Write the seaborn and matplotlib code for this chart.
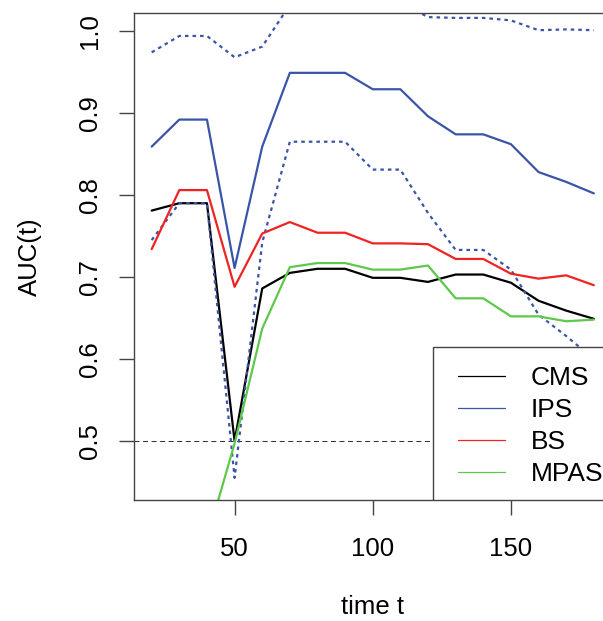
import pandas as pd
import matplotlib
matplotlib.use("Agg")
import matplotlib.pyplot as plt
from matplotlib.patches import Rectangle
import seaborn as sns

# time points and AUC(t) curves
time_t = [20, 30, 40, 50, 60, 70, 80, 90, 100, 110, 120, 130, 140, 150, 160, 170, 180]
auc_cms = [0.781, 0.790, 0.790, 0.500, 0.686, 0.705, 0.710, 0.710, 0.699, 0.699,
           0.694, 0.703, 0.703, 0.693, 0.671, 0.659, 0.649]
auc_ips = [0.859, 0.892, 0.892, 0.711, 0.859, 0.949, 0.949, 0.949, 0.929, 0.929,
           0.896, 0.874, 0.874, 0.862, 0.828, 0.816, 0.802]
auc_ips_lower = [0.745, 0.790, 0.790, 0.455, 0.742, 0.865, 0.865, 0.865, 0.831, 0.831,
                 0.778, 0.733, 0.733, 0.709, 0.654, 0.628, 0.600]
auc_ips_upper = [0.974, 0.994, 0.994, 0.968, 0.981, 1.032, 1.032, 1.032, 1.035, 1.035,
                 1.017, 1.016, 1.016, 1.013, 1.001, 1.002, 1.001]
auc_bs = [0.734, 0.806, 0.806, 0.688, 0.753, 0.767, 0.754, 0.754, 0.741, 0.741,
          0.740, 0.722, 0.722, 0.704, 0.698, 0.702, 0.690]
auc_mpas = [0.380, 0.380, 0.380, 0.497, 0.637, 0.712, 0.717, 0.717, 0.709, 0.709,
            0.714, 0.674, 0.674, 0.652, 0.652, 0.646, 0.648]

methods = ["CMS", "IPS", "BS", "MPAS"]
colors = {"CMS": "black", "IPS": "#3A55A8", "BS": "#F02323", "MPAS": "#5DC84A"}

df = pd.DataFrame({"t": time_t, "CMS": auc_cms, "IPS": auc_ips, "BS": auc_bs,
                   "MPAS": auc_mpas, "IPS_lo": auc_ips_lower, "IPS_hi": auc_ips_upper})

sns.set_theme(style="ticks")
plt.rcParams["font.family"] = ["Liberation Sans", "DejaVu Sans"]
plt.rcParams["text.color"] = "black"
plt.rcParams["axes.labelcolor"] = "black"

fig = plt.figure(figsize=(6.03, 6.21), dpi=100)
ax = fig.add_axes([134 / 603, 121 / 621, 477.5 / 603, 487 / 621])

ax.axhline(0.5, color="#333333", lw=0.75, ls=(0, (4.8, 3.4)), zorder=1)

handles = {}
for m in methods:
    sns.lineplot(data=df, x="t", y=m, color=colors[m], lw=1.6, ax=ax, label=m, legend=False)
    handles[m] = ax.lines[-1]
    if m == "IPS":
        for b in ["IPS_lo", "IPS_hi"]:
            sns.lineplot(data=df, x="t", y=b, color=colors[m], lw=1.6,
                         linestyle=(0, (1.6, 1.8)), ax=ax, legend=False)

ax.set_xlim(13.6, 186.4)
ax.set_ylim(0.428, 1.022)
ax.set_xticks([50, 100, 150])
ax.set_yticks([0.5, 0.6, 0.7, 0.8, 0.9, 1.0])
ax.set_yticklabels(["0.5", "0.6", "0.7", "0.8", "0.9", "1.0"], rotation=90, va="center")
ax.tick_params(axis="both", labelsize=18.5, length=10.8, width=1, color="#444444", labelcolor="black")
ax.tick_params(axis="x", pad=16)
ax.tick_params(axis="y", pad=12)
for s in ax.spines.values():
    s.set_color("#444444")
    s.set_linewidth(1)

ax.set_xlabel("time t", fontsize=18.5, labelpad=24)
ax.set_ylabel("AUC(t)", fontsize=18.5, labelpad=26)

# legend box in the bottom-right corner
ax.add_patch(Rectangle((0.6272, 0.0), 0.3728, 0.3136, transform=ax.transAxes,
                       facecolor="white", edgecolor="#444444", lw=1, zorder=5))
leg = ax.legend([handles[m] for m in methods], methods, loc="center left",
                bbox_to_anchor=(0.6785, 0.1513), frameon=False, fontsize=19,
                borderpad=0, borderaxespad=0, handlelength=1.8, handletextpad=0.95,
                labelspacing=0.3)
leg.set_zorder(6)
for line in leg.get_lines():
    line.set_linewidth(0.9)

fig.savefig("out.png", dpi=100)
